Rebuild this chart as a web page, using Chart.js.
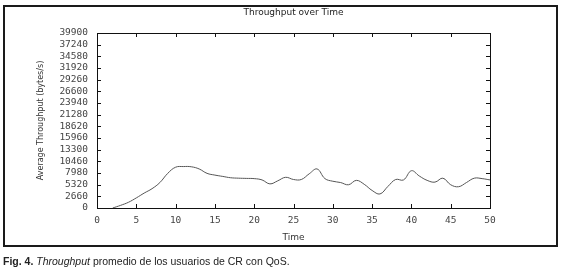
<!DOCTYPE html>
<html>
<head>
<meta charset="utf-8">
<script src="https://cdn.jsdelivr.net/npm/chart.js@4"></script>
<style>
  html, body { margin: 0; padding: 0; background: #fff; }
  #wrap { position: relative; width: 563px; height: 277px; }
  #box { position: absolute; left: 3px; top: 5px; width: 551px; height: 238px; border: 2px solid #1a1a1a; }
  canvas { position: absolute; left: 0; top: 0; }
  #caption { position: absolute; left: 3px; top: 255px; font: 10.5px "Liberation Sans", Arial, sans-serif; color: #222; white-space: nowrap; }
</style>
</head>
<body>
<div id="wrap">
  <div id="box"></div>
  <canvas id="chart" width="563" height="277"></canvas>
  <div id="caption"><b>Fig. 4.</b> <i>Throughput</i> promedio de los usuarios de CR con QoS.</div>
</div>
<script>
// datos
const times = [2, 3, 4, 5, 6, 7, 8, 9, 10, 11, 12, 13, 14, 15, 16, 17, 18, 19, 20, 21, 22, 23, 24, 25, 26,
  27, 28, 29, 30, 31, 32, 33, 34, 35, 36, 37, 38, 39, 40, 41, 42, 43, 44, 45, 46, 47, 48, 49, 50];
const throughput = [0, 600, 1300, 2300, 3400, 4400, 5800, 7900, 9300, 9450, 9400, 8900, 7900, 7500, 7200,
  6900, 6800, 6750, 6700, 6400, 5500, 6200, 7000, 6500, 6500, 7800, 8900, 6700, 6100, 5800, 5300, 6300,
  5400, 4000, 3200, 4900, 6500, 6400, 8500, 7300, 6300, 5900, 6800, 5300, 4850, 5800, 6800, 6700, 6400];
const yTickLabels = ["0", "2660", "5320", "7980", "10460", "13300", "15960", "18620", "21280", "23940",
  "26600", "29260", "31920", "34580", "37240", "39900"];

const tickFont = { family: "DejaVu Sans Mono", size: 9.5 };
const textColor = "#444";

// marco del gráfico con marcas hacia dentro (estilo gnuplot)
const framePlugin = {
  id: "frame",
  afterDraw(chart) {
    const { ctx, chartArea: a, scales: { x, y } } = chart;
    ctx.save();
    ctx.strokeStyle = "#111";
    ctx.lineWidth = 1;
    ctx.strokeRect(Math.round(a.left) + 0.5, Math.round(a.top) + 0.5, Math.round(a.width), Math.round(a.height));
    ctx.beginPath();
    x.ticks.forEach((t) => {
      const px = Math.round(x.getPixelForValue(t.value)) + 0.5;
      ctx.moveTo(px, a.bottom); ctx.lineTo(px, a.bottom - 4);
      ctx.moveTo(px, a.top); ctx.lineTo(px, a.top + 4);
    });
    y.ticks.forEach((t) => {
      const py = Math.round(y.getPixelForValue(t.value)) + 0.5;
      ctx.moveTo(a.left, py); ctx.lineTo(a.left + 4, py);
      ctx.moveTo(a.right, py); ctx.lineTo(a.right - 4, py);
    });
    ctx.stroke();
    ctx.restore();
  },
};

new Chart(document.getElementById("chart"), {
  type: "line",
  data: {
    datasets: [{
      data: times.map((t, i) => ({ x: t, y: throughput[i] })),
      borderColor: "#555",
      borderWidth: 1,
      pointRadius: 0,
      tension: 0.4,
      fill: false,
    }],
  },
  options: {
    responsive: false,
    animation: false,
    layout: { padding: { left: 0, right: 73, top: 0, bottom: 0 } },
    plugins: {
      legend: { display: false },
      tooltip: { enabled: false },
    },
    scales: {
      // eje superior solo para el título, centrado sobre el área del gráfico
      top: {
        type: "linear",
        position: "top",
        min: 0,
        max: 50,
        grid: { display: false, drawTicks: false },
        border: { display: false },
        ticks: { display: false },
        title: {
          display: true,
          text: "Throughput over Time",
          color: "#222",
          font: { family: "DejaVu Sans", size: 9 },
          padding: { top: 7.6, bottom: 0 },
        },
        afterFit: (scale) => { scale.height = 33; },
      },
      x: {
        type: "linear",
        min: 0,
        max: 50,
        grid: { display: false, drawTicks: false },
        border: { display: false },
        ticks: { stepSize: 5, padding: 7, color: textColor, font: tickFont, maxRotation: 0 },
        title: {
          display: true,
          text: "Time",
          color: "#333",
          font: { family: "DejaVu Sans", size: 9 },
          padding: { top: 0, bottom: 34 },
        },
        afterFit: (scale) => { scale.height = 69; },
      },
      y: {
        type: "linear",
        min: 0,
        max: 39900,
        grid: { display: false, drawTicks: false },
        border: { display: false },
        ticks: {
          stepSize: 2660,
          autoSkip: false,
          padding: 9,
          color: textColor,
          font: tickFont,
          callback: (v, i) => yTickLabels[i],
        },
        title: {
          display: true,
          text: "Average Throughput (bytes/s)",
          color: "#333",
          font: { family: "DejaVu Sans", size: 8 },
          padding: { top: 36, bottom: 0 },
        },
        afterFit: (scale) => { scale.width = 97; },
      },
    },
  },
  plugins: [framePlugin],
});
</script>
</body>
</html>
